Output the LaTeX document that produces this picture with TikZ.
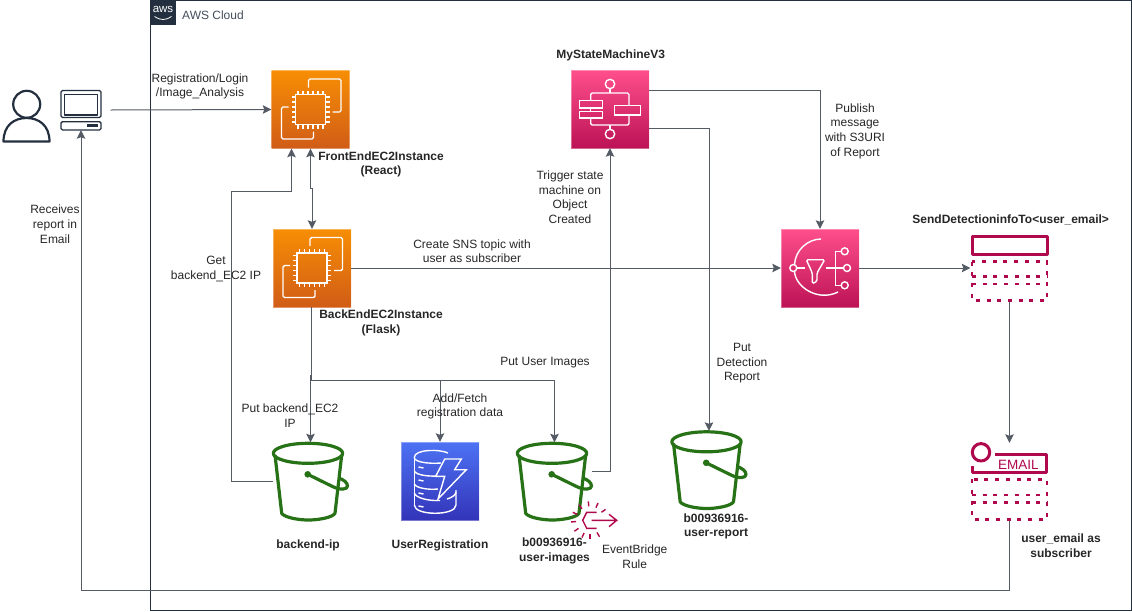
\documentclass[tikz,border=0pt]{standalone}
\usepackage{fontspec}
\setmainfont{Liberation Sans}
\usetikzlibrary{arrows.meta}
\definecolor{linegray}{HTML}{545B64}
\definecolor{awsdark}{HTML}{232F3E}
\definecolor{bucketgreen}{HTML}{277116}
\definecolor{rosered}{HTML}{B0084D}
\begin{document}
\begin{tikzpicture}[x=1pt,y=-1pt]
	\tikzstyle{box}=[rectangle,minimum width=78pt,minimum height=78pt,inner sep=0pt,draw=white,draw opacity=0.35]
	\tikzstyle{computebox}=[box,top color={rgb,255:red,247;green,142;blue,4},bottom color={rgb,255:red,208;green,92;blue,23}]
	\tikzstyle{pinkbox}=[box,top color={rgb,255:red,255;green,79;blue,139},bottom color={rgb,255:red,188;green,19;blue,86}]
	\tikzstyle{bluebox}=[box,top color={rgb,255:red,77;green,114;blue,243},bottom color={rgb,255:red,51;green,52;blue,185}]
	\tikzstyle{blank}=[rectangle,inner sep=0pt]
	\tikzstyle{label}=[inner sep=0pt,yshift=-0.8pt,align=center,text=black!85,font=\fontsize{12}{14.7}\selectfont]
	\tikzstyle{boldlabel}=[label,font=\fontsize{12}{14.7}\selectfont\bfseries]
	\tikzstyle{flow}=[draw=linegray,line width=1pt,-{Stealth[length=8.5pt,width=8.5pt,inset=1.5pt]}]
	\tikzstyle{glyph}=[draw=white,line width=1.4pt,rounded corners=1.5pt]
	\tikzstyle{pail}=[draw=bucketgreen,line width=3.2pt,line join=round]
	\tikzstyle{rule}=[draw=rosered,line width=3pt,line join=round]
	\tikzstyle{dots}=[draw=rosered,line width=2.8pt,dash pattern=on 4pt off 6.7pt]
	\tikzstyle{dark}=[draw=awsdark,line width=2.2pt,line join=round]
	% cloud frame
	\node[blank,draw=awsdark,line width=1pt,minimum width=980.5pt,minimum height=609.5pt] (cloud) at (640.75,305.25) {};
	\node[blank,fill=awsdark,minimum width=25pt,minimum height=25pt] (awslogo) at (163,12.5) {};
	\node[inner sep=0pt,text=white,font=\fontsize{11.5}{11.5}\selectfont] (awstext) at (163,9.5) {aws};
	\node[label,anchor=west,yshift=0.8pt,text=awsdark!85] (cloudname) at (182,15) {AWS Cloud};
	\draw[white,line width=0.8pt] (154.5,16.5) .. controls (160,20.5) and (166,20.5) .. (171.5,16.5);
	% services
	\node[blank,minimum width=46pt,minimum height=50pt] (user) at (26.5,117) {};
	\node[blank,minimum width=41pt,minimum height=40pt] (computer) at (81,110) {};
	\node[computebox] (frontend) at (310.5,109.5) {};
	\node[computebox] (backend) at (312,268) {};
	\node[pinkbox] (statemachine) at (610,109) {};
	\node[pinkbox] (sns) at (820,268) {};
	\node[bluebox] (dynamo) at (440,481) {};
	\node[blank,minimum width=75pt,minimum height=78pt] (bucketip) at (310.5,481.5) {};
	\node[blank,minimum width=75pt,minimum height=78pt] (bucketimages) at (554.5,481.5) {};
	\node[blank,minimum width=75pt,minimum height=78pt] (bucketreport) at (709,470) {};
	\node[blank,minimum width=78pt,minimum height=67pt] (topic) at (1009.5,268.5) {};
	\node[blank,minimum width=78pt,minimum height=78pt] (subscriber) at (1009.5,482) {};
	\node[blank,minimum width=36pt,minimum height=36pt] (eventrule) at (598,520) {};
	% person and computer
	\begin{scope}[shift={(user.center)}]
		\draw[dark] (0.2,-12.7) circle (13.5);
		\draw[dark] (-23,24.5) .. controls (-23,8) and (-12,1) .. (0,1) .. controls (12,1) and (23,8) .. (23,24.5) -- cycle;
	\end{scope}
	\begin{scope}[shift={(computer.center)}]
		\draw[dark,line width=1.4pt,rounded corners=1.5pt] (-20,-19.5) rectangle (20,7.5);
		\draw[dark,line width=1.4pt] (-16.7,-15.7) rectangle (16.7,5);
		\draw[dark,line width=1.4pt,rounded corners=1.5pt] (-20,11.7) rectangle (20,20);
		\fill[awsdark] (5.7,14) rectangle (17.3,17.3);
	\end{scope}
	% EC2 chips
	\foreach \n in {frontend,backend}{
		\begin{scope}[shift={(\n.center)}]
			\draw[glyph,rounded corners=0pt] (-15,-15) rectangle (15,15);
			\foreach \p in {-12.5,-7.5,-2.5,2.5,7.5,12.5}{
				\draw[white,line width=1.2pt] (\p,-15) -- (\p,-19);
				\draw[white,line width=1.2pt] (\p,15) -- (\p,19);
				\draw[white,line width=1.2pt] (-15,\p) -- (-19,\p);
				\draw[white,line width=1.2pt] (15,\p) -- (19,\p);
			}
			\draw[glyph] (-2,-22) -- (-2,-30.5) -- (30.5,-30.5) -- (30.5,2.5) -- (22,2.5);
			\draw[glyph] (-22,-2.5) -- (-29,-2.5) -- (-29,29.5) -- (3,29.5) -- (3,22);
		\end{scope}
	}
	% state machine
	\begin{scope}[shift={(statemachine.center)}]
		\draw[glyph,rounded corners=0pt] (0,-25) circle (4.7) (0,25) circle (4.7);
		\draw[glyph,rounded corners=0pt] (0,-20.3) -- (0,-16) (0,16) -- (0,20.3);
		\draw[glyph] (-19.3,-8.3) -- (-19.3,-16) -- (19,-16) -- (19,-3.3);
		\draw[glyph] (-19.3,9) -- (-19.3,16) -- (19,16) -- (19,6);
		\draw[glyph,rounded corners=0pt] (4.3,-3.3) rectangle (30.7,6);
		\draw[glyph,rounded corners=0pt] (-30.3,-8.3) rectangle (-7.7,-1);
		\draw[glyph,rounded corners=0pt] (-30.3,2.3) rectangle (-7.7,9);
		\draw[glyph,rounded corners=0pt] (-19.3,-1) -- (-19.3,2.3);
	\end{scope}
	% notification service
	\begin{scope}[shift={(sns.center)}]
		\draw[white,line width=1.4pt] (-25.5,-3) .. controls (-25,-18) and (-12,-29) .. (1,-29);
		\draw[white,line width=1.4pt] (-25.5,3) .. controls (-25,19) and (-2,34) .. (18,24);
		\draw[glyph,rounded corners=0pt] (-26.7,0) circle (3.5);
		\draw[glyph,rounded corners=0pt] (-23,0) -- (-15.3,0);
		\draw[glyph] (-13.7,-8.3) -- (4.7,-8.3) -- (-3,5) -- (-3,13.3) -- (-7.7,15.7) -- (-7.7,5) -- cycle;
		\draw[glyph,rounded corners=0pt] (6.3,0) -- (23.5,0) (15.3,-16.7) -- (15.3,17.3) (15.3,-16.7) -- (21.2,-16.7) (15.3,17.3) -- (21.2,17.3);
		\draw[glyph,rounded corners=0pt] (27,0) circle (3.5) (24.7,-16.7) circle (3.5) (24.7,17.3) circle (3.5);
	\end{scope}
	% database
	\begin{scope}[shift={(dynamo.center)}]
		\draw[glyph,rounded corners=0pt] (8,-28) .. controls (0,-32) and (-25.7,-32) .. (-25.7,-23.5) .. controls (-25.7,-19) and (-12,-17) .. (1,-18);
		\draw[glyph,rounded corners=0pt] (-25.7,-23.5) -- (-25.7,24);
		\draw[glyph,rounded corners=0pt] (-25.7,-10) .. controls (-24,-6) and (-12,-4.5) .. (-3,-5);
		\draw[glyph,rounded corners=0pt] (-25.7,3) .. controls (-24,7) and (-12,9) .. (-2,8);
		\draw[glyph,rounded corners=0pt] (-25.7,12) .. controls (-24,17) and (-12,20) .. (0,19.5);
		\draw[glyph,rounded corners=0pt] (-25.7,24) .. controls (-25.7,35) and (16,35) .. (16,24) -- (16,9);
		\draw[glyph,rounded corners=0pt] (16,11) .. controls (16,14) and (11,17) .. (7,18);
		\foreach \p in {-14,-1,12,25}{
			\draw[white,line width=1.4pt] (-21.5,\p) -- (-16.5,\p+1);
		}
		\draw[glyph,rounded corners=0pt] (4.7,-22) -- (21.3,-22) -- (14.7,-11.3) -- (26.3,-11.3) -- (-2,18) -- (4.7,-4.7) -- (-4.3,-4.7) -- cycle;
	\end{scope}
	% buckets
	\foreach \n in {bucketip,bucketimages,bucketreport}{
		\begin{scope}[shift={(\n.center)}]
			\draw[pail] (-2.5,-28.2) ellipse (34.7 and 10);
			\draw[pail] (-35.5,-26.5) -- (-28.8,31.8) .. controls (-26,36) and (-12,38.5) .. (-2.2,38.5) .. controls (8,38.5) and (22,36) .. (24.5,31.8) -- (31.2,-26.5);
			\fill[bucketgreen] (-2.8,-7.2) circle (3.3);
			\draw[pail] (-2.8,-7.2) -- (22,5) .. controls (30,9) and (37,8) .. (37,4.5) .. controls (37,1) and (33,-2) .. (28,-3.5);
		\end{scope}
	}
	% eventbridge rule
	\begin{scope}[shift={(eventrule.center)}]
		\draw[draw=rosered,line width=1.4pt] (-1.5,-7.7) -- (-11.3,-7.7) -- (-15.3,0.3) -- (-11.3,8.3) -- (-1.5,8.3);
		\draw[draw=rosered,line width=1.4pt] (-6.3,0.3) -- (18.7,0.3) (11,-5.7) -- (18.7,0.3) -- (11,6.7);
		\foreach \a in {-95,-65,-35,-125,-155,175,145,115,90,60}{
			\draw[draw=rosered,line width=1.4pt] ([shift={(\a:14)}]-8,0.3) -- ([shift={(\a:19)}]-8,0.3);
		}
	\end{scope}
	% topic and subscriber
	\begin{scope}[shift={(topic.center)}]
		\draw[rule] (-37.5,-32) rectangle (37.5,-14);
		\draw[dots] (-37.5,-7) rectangle (37.5,32);
		\draw[dots] (-37.5,8) -- (37.5,8) (-37.5,15.5) -- (37.5,15.5);
	\end{scope}
	\begin{scope}[shift={(subscriber.center)}]
		\draw[rule] (-28.5,-29.7) circle (8.7);
		\draw[rule] (-14.5,-28) -- (37,-28) -- (37,-9.7) -- (-37.5,-9.7) -- (-37.5,-16.3);
		\node[inner sep=0pt,text=rosered,font=\fontsize{13.5}{13.5}\selectfont] (emailtext) at (8.8,-17) {EMAIL};
		\draw[dots] (-37.5,-2.7) rectangle (37.5,37.5);
		\draw[dots] (-37.5,13) -- (37.5,13) (-37.5,20.7) -- (37.5,20.7);
	\end{scope}
	% connectors
	\coordinate (getbend) at (231.5,191);
	\coordinate (flaskbend) at (311.5,380.5);
	\draw[flow] ([xshift=9pt]computer.east) -- (frontend.west);
	\draw[flow] (subscriber.south) -- ++(0,69) -| (computer.south);
	\draw[flow] (bucketip.west) -| (getbend) -| ([xshift=-19pt]frontend.south);
	\draw[flow,{Stealth[length=8.5pt,width=8.5pt,inset=1.5pt]}-{Stealth[length=8.5pt,width=8.5pt,inset=1.5pt]}] (frontend.south) -- ++(0,40) -| (backend.north);
	\draw[flow] ([xshift=-1pt]backend.south) -- ++(0,68) -| (bucketip.north);
	\draw[flow] ([xshift=-0.5pt]backend.south) |- (flaskbend) -| (dynamo.north);
	\draw[flow] ([xshift=-0.5pt]backend.south) |- (flaskbend) -| (bucketimages.north);
	\draw[flow] ([yshift=10pt]bucketimages.east) -| (statemachine.south);
	\draw[flow] ([yshift=-19.5pt]statemachine.east) -| (bucketreport.north);
	\draw[flow] ([yshift=19pt]statemachine.east) -| (sns.north);
	\draw[flow] (backend.east) -- (sns.west);
	\draw[flow] (sns.east) -- (sns.east -| topic.west);
	\draw[flow] (topic.south) -- (subscriber.north);
	% labels
	\node[label] (lbllogin) at (200,85.5) {Registration/Login\\/Image\_Analysis};
	\node[boldlabel] (lblfront) at (381,163.5) {FrontEndEC2Instance\\(React)};
	\node[label] (lblreceive) at (55,223.5) {Receives\\report in\\Email};
	\node[label] (lblget) at (216,268.5) {Get\\backend\_EC2 IP};
	\node[boldlabel] (lblback) at (381,322) {BackEndEC2Instance\\(Flask)};
	\node[label] (lblputip) at (290,415) {Put backend\_EC2\\IP};
	\node[label] (lbladd) at (460,405.5) {Add/Fetch\\registration data};
	\node[label] (lblputimg) at (545,361.7) {Put User Images};
	\node[boldlabel] (lblip) at (308,544.7) {backend-ip};
	\node[boldlabel] (lbluser) at (440,544.7) {UserRegistration};
	\node[boldlabel] (lblimages) at (554.5,550.2) {b00936916-\\user-images};
	\node[label] (lblrule) at (634.7,556.2) {EventBridge\\Rule};
	\node[boldlabel] (lblstate) at (610.7,54.5) {MyStateMachineV3};
	\node[label] (lbltrigger) at (570,196.3) {Trigger state\\machine on\\Object\\Created};
	\node[label] (lblpublish) at (855,130.3) {Publish\\message\\with S3URI\\of Report};
	\node[label] (lblcreate) at (472,250.5) {Create SNS topic with\\user as subscriber};
	\node[boldlabel] (lbltopic) at (1010.7,219.5) {SendDetectioninfoTo<user\_email>};
	\node[boldlabel] (lblreport) at (716,525.5) {b00936916-\\user-report};
	\node[label] (lbldetect) at (742,362.5) {Put\\Detection\\Report};
	\node[boldlabel] (lblsub) at (1061,545.2) {user\_email as\\subscriber};
	\useasboundingbox (0,0) rectangle (1132,611);
\end{tikzpicture}
\end{document}
